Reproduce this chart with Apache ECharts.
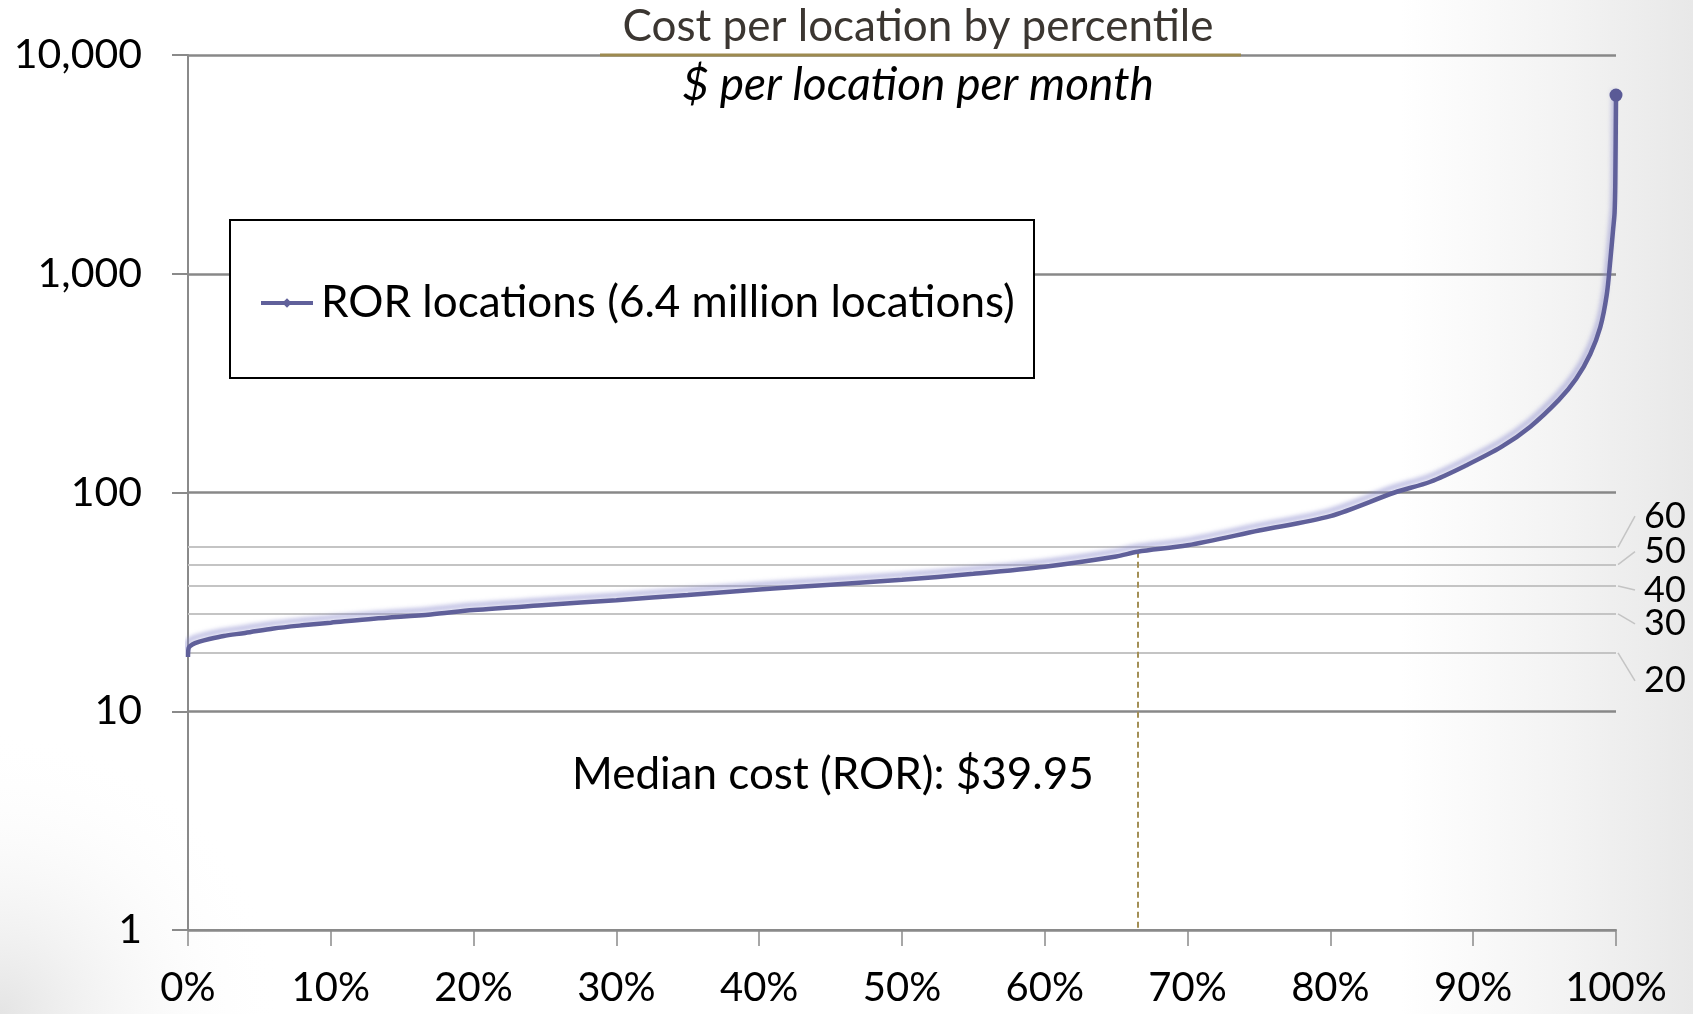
<!DOCTYPE html>
<html>
<head>
<meta charset="utf-8">
<script src="https://cdn.jsdelivr.net/npm/echarts@6/dist/echarts.min.js"></script>
<style>
html,body{margin:0;padding:0;background:#fff;}
#chart{width:1693px;height:1014px;}
</style>
</head>
<body>
<div id="chart"></div>
<script>
// ---- data ----
const percentile = [0, 0.05, 0.3, 0.8, 1.5, 2.5, 4, 6, 8, 10, 13, 17, 20, 25, 30, 35, 40, 45, 50, 55, 60, 65, 66.5, 70, 75, 80, 84.5, 87, 89.5, 92, 94, 96, 97.2, 98.2, 98.9, 99.35, 99.6, 99.8, 99.9, 99.95, 100];
const cost = [17.7, 19.5, 20.2, 20.8, 21.4, 22.1, 22.8, 23.9, 24.7, 25.4, 26.5, 27.7, 29.0, 30.6, 32.2, 34.0, 36.0, 37.9, 39.9, 42.5, 45.8, 51.0, 53.6, 57.4, 67, 78, 100, 112, 133, 162, 200, 265, 330, 430, 570, 800, 1150, 1600, 1900, 2600, 6560];
const seriesName = 'ROR locations (6.4 million locations)';
const refLabels = ['60', '50', '40', '30', '20'];
const refValues = [56.3, 46.8, 37.4, 27.9, 18.5];
const medianPercentile = 66.5;
const medianCurveValue = 53.6;
const medianText = 'Median cost (ROR): $39.95';
const yTicks = [1, 10, 100, 1000, 10000];
const xTickStep = 10;
const titleText = 'Cost per location by percentile';
const subtitleText = '$ per location per month';

// ---- layout ----
const FONT = 'Lato, "Open Sans", sans-serif';
const refLabelOffsets = [-31, -13, 4, 10, 28];

const chart = echarts.init(document.getElementById('chart'), null, {renderer: 'canvas'});

const seriesData = percentile.map((p, i) => {
  if (i === percentile.length - 1) {
    return {value: [p, cost[i]], symbol: 'circle', symbolSize: 13};
  }
  return [p, cost[i]];
});

const markLines = refValues.map(v => ({
  yAxis: v,
  lineStyle: {color: '#c4c4c4', width: 2, type: 'solid'}
}));
markLines.push([
  {coord: [medianPercentile, medianCurveValue], lineStyle: {color: '#a38f55', width: 2, type: [6, 4]}},
  {coord: [medianPercentile, yTicks[0]]}
]);

const option = {
  animation: false,
  backgroundColor: '#ffffff',
  legend: {
    show: true,
    left: 259,
    top: 281,
    padding: 0,
    itemWidth: 52,
    itemHeight: 12,
    itemGap: 0,
    textStyle: {fontFamily: FONT, fontSize: 44, color: '#000', padding: [0,0,0,3]},
    lineStyle: {width: 4, shadowBlur: 0, shadowColor: 'rgba(0,0,0,0)', shadowOffsetX: 0, shadowOffsetY: 0},
    itemStyle: {color: '#60609a'},
    data: [seriesName],
    z: 10
  },
  grid: {left: 188, right: 77, top: 55, bottom: 84, containLabel: false},
  xAxis: {
    type: 'value',
    min: 0,
    max: 100,
    interval: xTickStep,
    axisLine: {show: true, lineStyle: {color: '#8a8a8a', width: 2}},
    axisTick: {show: true, length: 16, inside: false, lineStyle: {color: '#8a8a8a', width: 1.5}},
    axisLabel: {formatter: '{value}%', fontFamily: FONT, fontSize: 40, color: '#000', margin: 38},
    splitLine: {show: false}
  },
  yAxis: {
    type: 'log',
    logBase: 10,
    min: yTicks[0],
    max: yTicks[yTicks.length - 1],
    axisLine: {show: true, lineStyle: {color: '#8a8a8a', width: 2}},
    axisTick: {show: true, length: 16, inside: false, lineStyle: {color: '#8a8a8a', width: 2}},
    axisLabel: {
      fontFamily: FONT, fontSize: 41, color: '#000', margin: 46,
      formatter: v => Math.round(v).toLocaleString('en-US')
    },
    splitLine: {show: true, lineStyle: {color: '#888888', width: 2.5}},
    minorTick: {show: false}
  },
  series: [{
    name: seriesName,
    type: 'line',
    data: seriesData,
    symbol: 'diamond',
    symbolSize: 0,
    showSymbol: true,
    showAllSymbol: true,
    smooth: 0.3,
    lineStyle: {
      color: '#60609a', width: 4.5,
      shadowColor: 'rgba(140,140,205,0.6)', shadowBlur: 4, shadowOffsetX: -2, shadowOffsetY: -5
    },
    itemStyle: {color: '#5a5a96'},
    z: 5,
    markLine: {
      silent: true,
      symbol: ['none', 'none'],
      label: {show: false},
      data: markLines,
      z: 1
    }
  }],
  graphic: []
};

chart.setOption(option);

function buildGraphics() {
  const g = [];
  // slide background shading
  g.push({type: 'rect', z: -10, silent: true, shape: {x: 1400, y: 0, width: 293, height: 1014},
    style: {fill: new echarts.graphic.LinearGradient(0, 0, 1, 0, [{offset: 0, color: 'rgba(235,235,235,0)'}, {offset: 1, color: 'rgba(232,232,232,1)'}])}});
  g.push({type: 'rect', z: -10, silent: true, shape: {x: 0, y: 700, width: 320, height: 314},
    style: {fill: new echarts.graphic.RadialGradient(0, 1, 0.9, [{offset: 0, color: 'rgba(228,228,228,1)'}, {offset: 1, color: 'rgba(255,255,255,0)'}])}});
  // title + subtitle
  g.push({type: 'text', z: 20, silent: true, x: 918, y: 27,
    style: {text: titleText, font: '44px ' + FONT, fill: '#3b3631', align: 'center', verticalAlign: 'middle'}});
  g.push({type: 'text', z: 20, silent: true, x: 918, y: 85,
    style: {text: subtitleText, font: 'italic 46px ' + FONT, fill: '#000', align: 'center', verticalAlign: 'middle'}});
  // title underline
  g.push({type: 'line', z: 20, silent: true, shape: {x1: 600, y1: 55, x2: 1241, y2: 55},
    style: {stroke: '#9d8a4f', lineWidth: 3}});
  // legend box
  g.push({type: 'rect', z: 3, silent: true, shape: {x: 230, y: 220, width: 804, height: 158},
    style: {fill: '#fff', stroke: '#000', lineWidth: 2}});
  // median label
  g.push({type: 'text', z: 10, silent: true, x: 572, y: 775,
    style: {text: medianText, font: '44px ' + FONT, fill: '#000', verticalAlign: 'middle'}});
  // reference labels + leaders
  const xEnd = chart.convertToPixel({xAxisIndex: 0}, 100);
  refValues.forEach((v, i) => {
    const y = chart.convertToPixel({yAxisIndex: 0}, v);
    const ly = y + refLabelOffsets[i];
    g.push({type: 'line', z: 10, silent: true, shape: {x1: xEnd + 2, y1: y, x2: xEnd + 19, y2: ly},
      style: {stroke: '#c4c4c4', lineWidth: 1.5}});
    g.push({type: 'text', z: 10, silent: true, x: xEnd + 28, y: ly,
      style: {text: refLabels[i], font: '36px ' + FONT, fill: '#000', verticalAlign: 'middle'}});
  });
  return g;
}
chart.setOption({graphic: buildGraphics()});
</script>
</body>
</html>
